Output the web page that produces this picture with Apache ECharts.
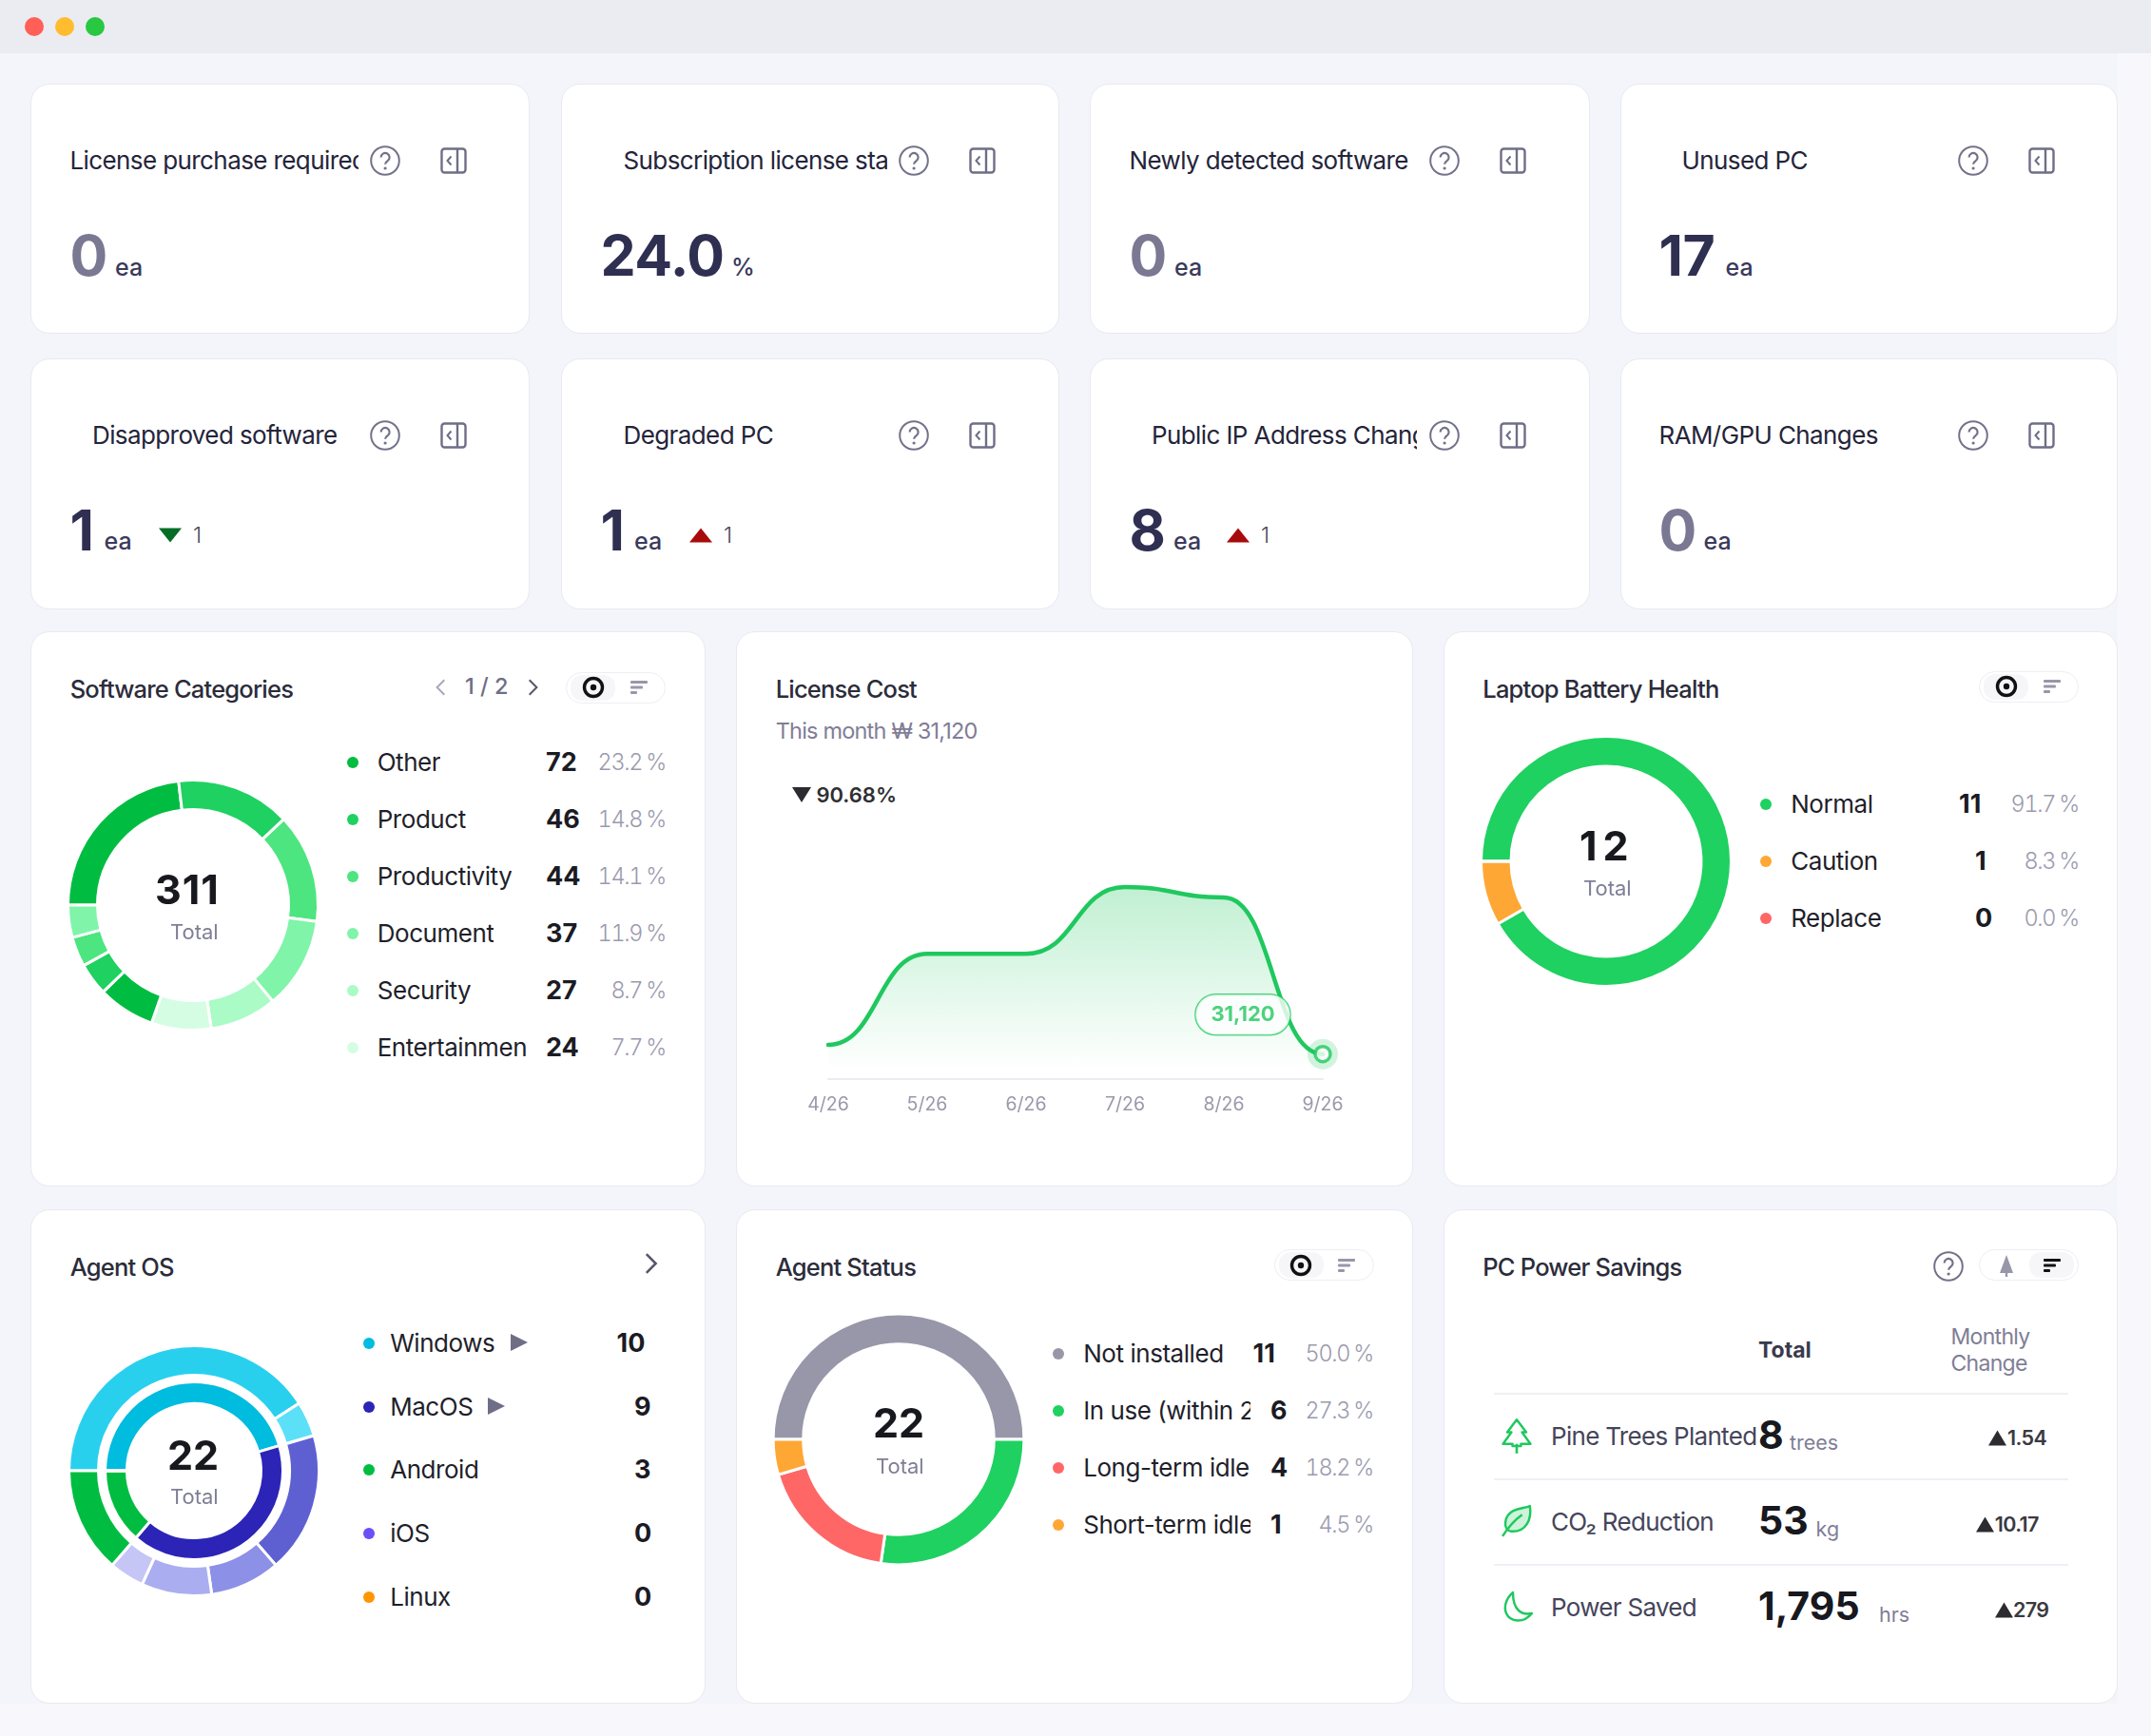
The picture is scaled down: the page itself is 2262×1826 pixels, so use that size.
<!DOCTYPE html>
<html>
<head>
<meta charset="utf-8">
<title>Dashboard</title>
<script src="https://cdn.jsdelivr.net/npm/echarts@6/dist/echarts.min.js"></script>
<style>
  html, body { margin: 0; padding: 0; background: #f7f7fc; }
  #page { position: relative; width: 2262px; height: 1826px; overflow: hidden; font-family: Inter, sans-serif; color: #1f1f2b; }
  .box { position: absolute; box-sizing: border-box; }
  .card { background: #fff; border: 1.5px solid #e9e9f1; border-radius: 20px; }
  .t { position: absolute; white-space: nowrap; line-height: 1.4; transform: translateY(-50%); overflow: hidden; }
  .head { font-size: 25.5px; font-weight: 500; color: #2b2c3a; letter-spacing: -0.8px; }
  .kpi-title { font-size: 26px; font-weight: 400; color: #24243a; letter-spacing: -0.6px; }
  .kpi-value { font-size: 59px; font-weight: 700; letter-spacing: -0.5px; }
  .kpi-unit { font-size: 25px; font-weight: 500; color: #3a3a5c; }
  .delta { font-size: 23px; font-weight: 300; color: #4a4a5a; }
  .name { font-size: 26px; color: #1f1f2b; letter-spacing: -0.45px; }
  .val { font-size: 27px; font-weight: 700; color: #1b1b24; }
  .pct { font-size: 23.5px; font-weight: 300; color: #9b9aae; font-variant-numeric: tabular-nums; letter-spacing: -1.3px; word-spacing: -1px; }
  .sum { font-size: 43px; font-weight: 700; color: #18181f; letter-spacing: 1px; }
  .total { font-size: 22px; color: #7f7e96; }
  svg { position: absolute; overflow: visible; }
</style>
</head>
<body>
<div id="page"></div>
<script>
// ---- data ----
const kpiTitles = ['License purchase required', 'Subscription license status', 'Newly detected software', 'Unused PC',
  'Disapproved software', 'Degraded PC', 'Public IP Address Changes', 'RAM/GPU Changes'];
const kpiValues = ['0', '24.0', '0', '17', '1', '1', '8', '0'];
const kpiUnits = ['ea', '%', 'ea', 'ea', 'ea', 'ea', 'ea', 'ea'];
const kpiDeltas = [null, null, null, null, -1, 1, 1, null];

const softwareNames = ['Other', 'Product', 'Productivity', 'Document', 'Security', 'Entertainment'];
const softwareValues = [72, 46, 44, 37, 27, 24];
const softwarePct = ['23.2 %', '14.8 %', '14.1 %', '11.9 %', '8.7 %', '7.7 %'];
const softwareColors = ['#00bd41', '#1fd160', '#4ce57f', '#80f4a8', '#aafbc6', '#d5fde3'];
// second legend page, only visible as slices
const softwareRestValues = [23, 13, 12, 13];
const softwareRestColors = ['#00bd41', '#1fd160', '#4ce57f', '#80f4a8'];

const costMonths = ['4/26', '5/26', '6/26', '7/26', '8/26', '9/26'];
const costValues = [49000, 225000, 225000, 354000, 333905, 31120];

const batteryNames = ['Normal', 'Caution', 'Replace'];
const batteryValues = [11, 1, 0];
const batteryPct = ['91.7 %', '8.3 %', '0.0 %'];
const batteryColors = ['#1fd160', '#ffa735', '#ff6767'];

const osNames = ['Windows', 'MacOS', 'Android', 'iOS', 'Linux'];
const osValues = [10, 9, 3, 0, 0];
const osColors = ['#00bcdf', '#2c24b7', '#00bd41', '#6c4ff5', '#ff9500'];
const osVersionValues = [9, 1, 4, 2, 2, 1, 3];
const osVersionColors = ['#29d0ee', '#5ce0f8', '#5e60d2', '#8c90e6', '#aaaef0', '#c5c6f5', '#00bd41'];

const agentNames = ['Not installed', 'In use (within 24h)', 'Long-term idle', 'Short-term idle'];
const agentValues = [11, 6, 4, 1];
const agentPct = ['50.0 %', '27.3 %', '18.2 %', '4.5 %'];
const agentColors = ['#9897a9', '#1fd160', '#ff6767', '#ffa735'];

const powerNames = ['Pine Trees Planted', 'CO₂ Reduction', 'Power Saved'];
const powerValues = ['8', '53', '1,795'];
const powerUnits = ['trees', 'kg', 'hrs'];
const powerChanges = ['1.54', '10.17', '279'];

// ---- small dom helpers ----
const page = document.getElementById('page');

function box(x, y, w, h, css, cls) {
  const d = document.createElement('div');
  d.className = 'box ' + (cls || '');
  d.style.cssText = `left:${x}px;top:${y}px;width:${w}px;height:${h}px;` + (css || '');
  page.appendChild(d);
  return d;
}

function text(x, cy, str, cls, css) {
  const s = document.createElement('div');
  s.className = 't ' + (cls || '');
  s.style.cssText = `left:${x}px;top:${cy}px;` + (css || '');
  s.textContent = str;
  page.appendChild(s);
  return s;
}

function textRight(right, cy, str, cls, css) {
  return text(0, cy, str, cls, `left:auto;right:${2262 - right}px;` + (css || ''));
}

function icon(cx, cy, size, inner, vb) {
  const holder = document.createElement('div');
  holder.innerHTML = `<svg xmlns="http://www.w3.org/2000/svg" width="${size}" height="${size}" viewBox="${vb || '0 0 32 32'}" style="left:${cx - size / 2}px;top:${cy - size / 2}px" fill="none">${inner}</svg>`;
  page.appendChild(holder.firstChild);
}

const helpIcon = (cx, cy) => icon(cx, cy, 32, '<circle cx="16" cy="16" r="14.8" stroke="#73728a" stroke-width="2"/><path d="M11.6 12.4a4.5 4.5 0 1 1 7 3.8c-1.6 1-2.5 1.9-2.5 3.6" stroke="#73728a" stroke-width="2.2"/><circle cx="16.1" cy="24" r="1.6" fill="#73728a"/>');
const panelIcon = (cx, cy) => icon(cx, cy, 28, '<rect x="1.5" y="1.5" width="25" height="25" rx="3" stroke="#6f6e87" stroke-width="2.4"/><path d="M18 2v24" stroke="#6f6e87" stroke-width="2.4"/><path d="M11.5 9.5L7.5 14l4 4.500" stroke="#6f6e87" stroke-width="2"/>', '0 0 28 28');
const targetIcon = (cx, cy, c) => icon(cx, cy, 24, `<circle cx="12" cy="12" r="9.500" stroke="${c}" stroke-width="3.400"/><circle cx="12" cy="12" r="3.200" fill="${c}"/>`, '0 0 24 24');
const listIcon = (cx, cy, c) => icon(cx, cy, 20, `<rect x="1" y="3" width="18" height="3" rx="1" fill="${c}"/><rect x="1" y="8.500" width="13" height="3" rx="1" fill="${c}"/><rect x="1" y="14" width="7" height="3" rx="1" fill="${c}"/>`, '0 0 20 20');
const chevron = (cx, cy, dir, c, size) => icon(cx, cy, size || 22, `<path d="${dir < 0 ? 'M13 3L6 10l7 7' : 'M7 3l7 7-7 7'}" stroke="${c}" stroke-width="1.800"/>`, '0 0 20 20');
const triUp = (cx, cy, w, h, c) => icon(cx, cy, w, `<path d="M12 ${12 - h / w * 12}L24 ${12 + h / w * 12}H0Z" fill="${c}"/>`, '0 0 24 24');
const triDown = (cx, cy, w, h, c) => icon(cx, cy, w, `<path d="M12 ${12 + h / w * 12}L24 ${12 - h / w * 12}H0Z" fill="${c}"/>`, '0 0 24 24');

function toggle(x, y, first, activeLeft) {
  box(x, y, 105, 33, 'background:#fff;border:1.5px solid #eeeef4;border-radius:17px;');
  box(x + (activeLeft ? 5 : 53), y + 3, 47, 27, 'background:#f6f6f9;border-radius:12px;');
  first(x + 28.5, y + 16.5);
  listIcon(x + 76.5, y + 16.5, activeLeft ? '#9897a9' : '#111');
}

function legendRows(cfg) {
  cfg.names.forEach((name, i) => {
    const y = cfg.ys[i];
    box(cfg.dotX - 6, y - 6, 12, 12, `border-radius:50%;background:${cfg.colors[i]};`);
    text(cfg.nameX - 0.8, y, name, 'name', cfg.nameW ? `max-width:${cfg.nameW}px;` : '');
    const digits = String(cfg.values[i]).length;
    text(digits > 1 ? cfg.valX : cfg.valX1, y, cfg.values[i], 'val');
    if (cfg.pct) textRight(cfg.pctRight, y, cfg.pct[i], 'pct');
  });
}

function mountChart(x, y, w, h, option) {
  const d = box(x, y, w, h);
  const chart = echarts.init(d);
  chart.setOption(option);
  return chart;
}

// a donut is one or two rings of pie series, all starting at nine o'clock.
// the white slice border eats half its width, so the radii are padded by that
function ring(values, colors, inner, outer) {
  return {
    type: 'pie',
    startAngle: 180,
    radius: [inner - 1.5, outer + 1.5],
    center: ['50%', '50%'],
    silent: true,
    label: { show: false },
    labelLine: { show: false },
    itemStyle: { borderColor: '#fff', borderWidth: 3 },
    data: values.map((v, i) => ({ value: v, itemStyle: { color: colors[i] } }))
  };
}

function donut(cx, cy, series) {
  mountChart(cx - 150, cy - 150, 300, 300, { animation: false, series: series });
}

// ---- frame ----
box(0, 56, 2227, 1736, 'background:#f4f5fa;');
box(0, 0, 2262, 56, 'background:#ebecf1;');
[['#ff5f57', 36], ['#febc2e', 68], ['#28c840', 100]].forEach(l => {
  box(l[1] - 10, 18, 20, 20, `border-radius:50%;background:${l[0]};`);
});

// ---- KPI cards ----
const kpiCardX = [[32, 525], [590, 524], [1146, 526], [1704, 523]];
const kpiRowY = [87.5, 377];
const kpiTitleX = [73.5, 655.5, 1187.5, 1768.5, 97, 655.5, 1211, 1744.5];
const kpiClip = [303.5, 277, 0, 0, 0, 0, 279, 0];
const kpiValueX = [73.5, 631.5, 1187.5, 1744.5];
const kpiHelpX = [405.4, 960.8, 1519, 2074.5];
const kpiPanelX = [476.8, 1032.9, 1591, 2146.6];
const kpiUnitX = [121, 769, 1235, 1814.6, 109.5, 667, 1234, 1791.6];
const kpiTriX = [178.5, 736.5, 1302];
const kpiDeltaX = [203, 761, 1326];

kpiTitles.forEach((title, i) => {
  const col = i % 4;
  const row = i < 4 ? 0 : 1;
  const top = kpiRowY[row];
  box(kpiCardX[col][0], top, kpiCardX[col][1], 263.5, '', 'card');
  const titleY = Math.round(top) + 81;
  text(kpiTitleX[i], titleY, title, 'kpi-title', kpiClip[i] ? `max-width:${kpiClip[i]}px;` : '');
  helpIcon(kpiHelpX[col], titleY);
  panelIcon(kpiPanelX[col], titleY);
  const isZero = kpiValues[i] === '0';
  text(kpiValueX[col], top + 181, kpiValues[i], 'kpi-value', `color:${isZero ? '#7a7893' : '#2f2f52'};`);
  text(kpiUnitX[i], top + (row ? 192 : 193.5), kpiUnits[i], 'kpi-unit');
  if (kpiDeltas[i] !== null) {
    const cy = top + 185;
    if (kpiDeltas[i] < 0) triDown(kpiTriX[col], cy + 1, 24, 15, '#056d25');
    else triUp(kpiTriX[col], cy + 1, 24, 15, '#a80b0b');
    text(kpiDeltaX[col], cy + 1, Math.abs(kpiDeltas[i]), 'delta');
  }
});

// ---- lower cards ----
[[32, 664, 710, 584], [774, 664, 712, 584], [1517.500, 664, 709.5, 584],
 [32, 1272, 710, 520], [774, 1272, 712, 520], [1517.500, 1272, 709.5, 520]].forEach(c => {
  box(c[0], c[1], c[2], c[3], '', 'card');
});

// Software Categories
text(73.7, 725, 'Software Categories', 'head');
chevron(464, 723, -1, '#a9a8ba');
text(489, 722, '1 / 2', '', 'font-size:23.5px;font-weight:500;color:#6f6e87;');
chevron(560, 723, 1, '#55556a');
toggle(595, 706.5, (x, y) => targetIcon(x, y, '#111'), true);
donut(203, 952, [ring(softwareValues.concat(softwareRestValues), softwareColors.concat(softwareRestColors), 102, 130)]);
text(163, 935, softwareValues.concat(softwareRestValues).reduce((a, b) => a + b, 0), 'sum');
text(179, 980, 'Total', 'total');
legendRows({
  names: softwareNames, values: softwareValues, pct: softwarePct, colors: softwareColors,
  ys: [802.2, 862.3, 922.4, 982, 1042, 1102],
  dotX: 371, nameX: 397.5, nameW: 157, valX: 574, valX1: 574, pctRight: 700
});

// License Cost
text(815.7, 725, 'License Cost', 'head');
text(815.7, 769.4, 'This month ₩ 31,120', '', 'font-size:23.5px;color:#7f7e96;letter-spacing:-0.8px;');
triDown(842.5, 836, 20, 16, '#2c2c30');
text(858.4, 836, '90.68%', '', 'font-size:22px;font-weight:600;color:#2f2f33;');

const lastCost = costValues.length - 1;
const onlyLast = costValues.map((v, i) => (i === lastCost ? v : null));

// every knot gets a flat tangent, which the line series can't do at its two ends
function renderCostCurve(params, api) {
  if (params.dataIndex !== 0) return;
  const pts = costValues.map((v, i) => api.coord([i, v]));
  const baseY = api.coord([0, 0])[1];
  let curve = '';
  for (let i = 1; i < pts.length; i++) {
    const k = (pts[i][0] - pts[i - 1][0]) * 0.5;
    curve += `C${pts[i - 1][0] + k} ${pts[i - 1][1]} ${pts[i][0] - k} ${pts[i][1]} ${pts[i][0]} ${pts[i][1]}`;
  }
  const start = `M${pts[0][0]} ${pts[0][1]}`;
  const close = `L${pts[lastCost][0]} ${baseY}L${pts[0][0]} ${baseY}Z`;
  return {
    type: 'group',
    children: [
      {
        type: 'path',
        shape: { pathData: start + curve + close },
        style: {
          fill: new echarts.graphic.LinearGradient(0, 0, 0, 1, [
            { offset: 0, color: 'rgba(31,200,94,0.28)' },
            { offset: 1, color: 'rgba(31,200,94,0)' }
          ])
        }
      },
      {
        type: 'path',
        shape: { pathData: start + curve },
        style: { fill: 'none', stroke: '#1fc85e', lineWidth: 4.5, lineCap: 'round' }
      }
    ]
  };
}

mountChart(800, 880, 660, 320, {
  animation: false,
  grid: { left: 71, top: 20, width: 520, height: 235 },
  xAxis: {
    type: 'category',
    boundaryGap: false,
    data: costMonths,
    axisTick: { show: false },
    axisLine: { onZero: false, lineStyle: { color: '#ebebf1', width: 2 } },
    axisLabel: { color: '#9a99ac', fontSize: 19.5, fontFamily: 'Inter', margin: 17.5 }
  },
  yAxis: { type: 'value', min: -17200, max: 414700, show: false },
  series: [
    {
      type: 'custom',
      coordinateSystem: 'cartesian2d',
      renderItem: renderCostCurve,
      data: costValues.map((v, i) => [i, v]),
      encode: { x: 0, y: 1 },
      silent: true
    },
    {
      type: 'scatter',
      data: onlyLast,
      symbolSize: 32,
      silent: true,
      itemStyle: { color: 'rgba(31,200,94,0.25)' }
    },
    {
      type: 'scatter',
      data: onlyLast,
      symbolSize: 16,
      silent: true,
      itemStyle: { color: '#fff', borderColor: '#1fc85e', borderWidth: 3.5 },
      label: {
        show: true,
        position: 'inside',
        offset: [-84, -41.5],
        formatter: p => p.value.toLocaleString('en-US'),
        color: '#1fc85e',
        fontSize: 22,
        fontWeight: 700,
        fontFamily: 'Inter',
        backgroundColor: '#fff',
        borderColor: '#1fc85e',
        borderWidth: 1.2,
        borderRadius: 22,
        padding: [10, 16]
      }
    }
  ]
});

// Laptop Battery Health
text(1559.3, 725, 'Laptop Battery Health', 'head');
toggle(2081, 705.5, (x, y) => targetIcon(x, y, '#111'), true);
donut(1689, 906, [ring(batteryValues, batteryColors, 101.5, 130)]);
text(1661, 889, batteryValues.reduce((a, b) => a + b, 0), 'sum', 'letter-spacing:6px;');
text(1665, 934, 'Total', 'total');
legendRows({
  names: batteryNames, values: batteryValues, pct: batteryPct, colors: batteryColors,
  ys: [845.7, 906, 966],
  dotX: 1857, nameX: 1884, valX: 2060, valX1: 2077, pctRight: 2186
});

// Agent OS
text(73.7, 1333, 'Agent OS', 'head');
chevron(684, 1329, 1, '#55556a', 28);
donut(203.5, 1546.6, [
  ring(osValues, osColors, 72, 92),
  ring(osVersionValues, osVersionColors, 102, 130)
]);
text(176, 1530, osValues.reduce((a, b) => a + b, 0), 'sum', 'letter-spacing:0;');
text(179, 1574.4, 'Total', 'total');
legendRows({
  names: osNames, values: osValues, colors: osColors,
  ys: [1413, 1479.9, 1546.3, 1613, 1679.9],
  dotX: 388, nameX: 411, valX: 648.6, valX1: 667
});
icon(545.5, 1412, 18, '<path d="M0 0L18 9L0 18Z" fill="#6f6e87"/>', '0 0 18 18');
icon(522, 1479, 18, '<path d="M0 0L18 9L0 18Z" fill="#6f6e87"/>', '0 0 18 18');

// Agent Status
text(815.7, 1333, 'Agent Status', 'head');
toggle(1339.7, 1314, (x, y) => targetIcon(x, y, '#111'), true);
donut(945.2, 1514, [ring(agentValues, agentColors, 101.8, 130.4)]);
text(918, 1496, agentValues.reduce((a, b) => a + b, 0), 'sum', 'letter-spacing:0;');
text(921, 1542.3, 'Total', 'total');
legendRows({
  names: agentNames, values: agentValues, pct: agentPct, colors: agentColors,
  ys: [1423.9, 1483.8, 1544, 1604],
  dotX: 1113.4, nameX: 1140, nameW: 175.5, valX: 1317.5, valX1: 1336, pctRight: 1444
});

// PC Power Savings
text(1559.3, 1333, 'PC Power Savings', 'head');
helpIcon(2048.6, 1332);
toggle(2081, 1314, (x, y) => icon(x, y, 24, '<path d="M12 1L19 20H13.200V24H10.800V20H5Z" fill="#9897a9"/>', '0 0 24 24'), false);
text(1849, 1420, 'Total', '', 'font-size:23px;font-weight:700;color:#3a3a4d;');
text(2051.5, 1405.5, 'Monthly', '', 'font-size:23px;color:#7f7e96;letter-spacing:-0.7px;');
text(2051.5, 1434.4, 'Change', '', 'font-size:23px;color:#7f7e96;letter-spacing:-0.7px;');
[1465.8, 1556.4, 1646.3].forEach(y => box(1571, y - 1, 603.5, 2, 'background:#efeff4;'));

const rowY = [1511, 1601, 1691.4];
const unitX = [1882, 1909.6, 1976];
const unitY = [1517, 1608, 1698];
const changeTriX = [2100.5, 2087.5, 2107];
const changeTextX = [2111, 2097.7, 2117];
powerNames.forEach((name, i) => {
  text(1631, rowY[i], name, '', 'font-size:26px;color:#45455a;letter-spacing:-0.7px;');
  text(1849, rowY[i] - 1, powerValues[i], '', 'font-size:41px;font-weight:700;color:#18181f;');
  text(unitX[i], unitY[i], powerUnits[i], '', 'font-size:21.5px;color:#7f7e96;');
  triUp(changeTriX[i], rowY[i] + 1 + (i ? 1 : 0), 19, 16, '#2c2c30');
  text(changeTextX[i], rowY[i] + 1 + (i ? 1 : 0), powerChanges[i], '', 'font-size:21.5px;font-weight:600;color:#3a3a3f;letter-spacing:-0.6px;');
});
icon(1595, 1511, 40, '<path d="M18 2L27 14H23L31 25H22V27H14V25H5L13 14H9Z" stroke="#1fc85e" stroke-width="2.200" stroke-linejoin="round"/><path d="M18 25V34" stroke="#1fc85e" stroke-width="2.400"/>', '0 0 36 36');
icon(1595, 1600, 37, '<path d="M31 2C33 16 27 29 12 28C3 27 4 12 14 7C20 4 26 4 31 2Z" fill="#cdf3da" stroke="#1fc85e" stroke-width="2.400" stroke-linejoin="round"/><path d="M3 33C10 22 16 16 23 11" stroke="#1fc85e" stroke-width="2.400"/>', '0 0 36 36');
icon(1596, 1691, 36, '<path d="M13 2C6 8 3 17 6 24C10 33 24 35 33 24C23 26 13 22 13 2Z" stroke="#1fc85e" stroke-width="2.400" stroke-linejoin="round"/>', '0 0 36 36');
</script>
</body>
</html>
